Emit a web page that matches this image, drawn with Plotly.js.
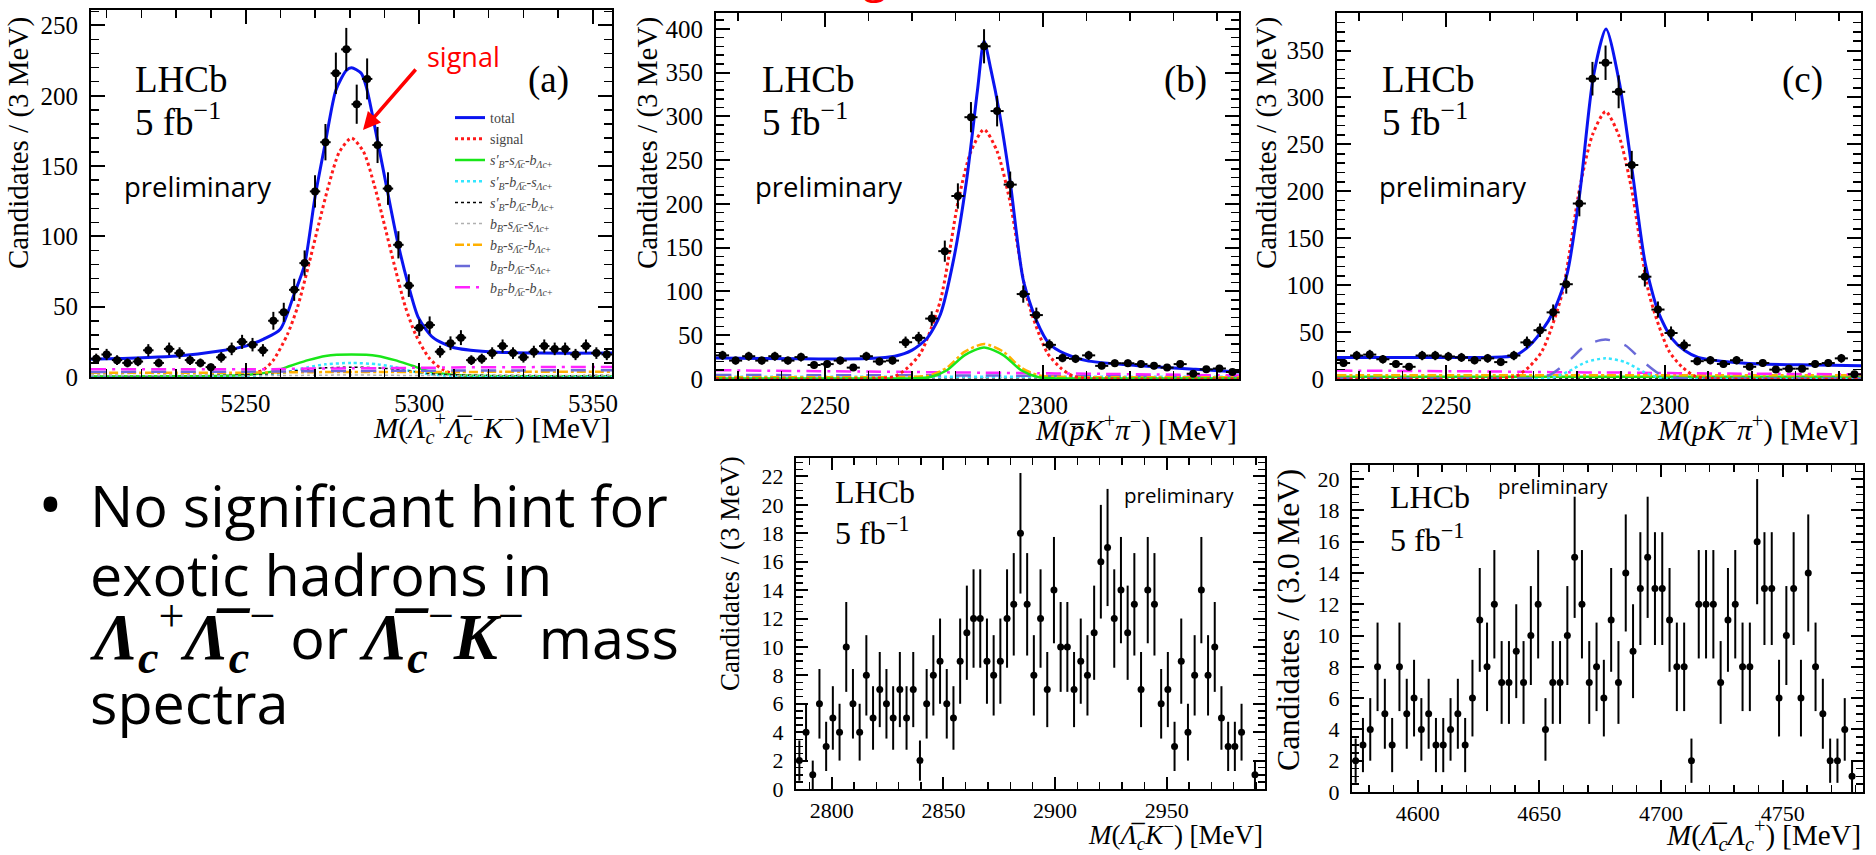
<!DOCTYPE html>
<html><head><meta charset="utf-8">
<script src="https://cdn.plot.ly/plotly-3.0.1.min.js"></script>
<style>html,body{margin:0;padding:0;background:#fff}#chart{width:1876px;height:855px}</style>
</head><body><div id="chart"></div>
<script>
// ---------------- DATA ----------------
// (a) M(Lc+ Lcbar- K-) spectrum, 3 MeV bins
const xA = [5207,5210,5213,5216,5219,5222,5225,5228,5231,5234,5237,5240,5243,5246,5249,5252,5255,5258,5261,5264,5267,5270,5273,5276,5279,5282,5285,5288,5291,5294,5297,5300,5303,5306,5309,5312,5315,5318,5321,5324,5327,5330,5333,5336,5339,5342,5345,5348,5351,5354];
const yA = [13,16,12,10,11,19,10,20,17,12,10,7,14,20,25,23,19,40,46,62,81,132,167,216,233,194,212,165,134,94,65,35,37,18,24,28,12,13,17,22,17,14,18,22,20,20,16,22,17,16];
const xA_tot = [5205.5,5230.5,5242.5,5250,5255.2,5260,5264,5267,5270,5273,5276,5279,5280.5,5283.3,5284.8,5288,5290.7,5293.7,5296.8,5299.8,5304,5309.8,5320,5335,5355.5];
const yA_tot = [12.6,15,18.5,22,27,34,59,80,128,167,204,218,220,216,206,168,134,97,66,42,28,21,18,17,17];
const xA_sig = [5205.5,5240,5250,5255,5258,5262,5265,5268,5271,5274,5277,5280.5,5284,5287,5290,5293,5296,5299,5303,5307,5312,5355.5];
const yA_sig = [0,0,1,5,12,30,50,78,108,137,160,170,160,137,108,78,50,30,13,5,1,0];
const xA_cmp = [5205.5,5230,5250,5258,5263,5268,5273,5280.5,5288,5293,5298,5303,5310,5330,5355.5];
const yA_green   = [0.3,0.5,1.5,4,8,12,15,16,15,12,8,4,1.5,0.5,0.3];
const yA_cyan    = [0,0,0.5,2,4,7,9,10,9,7,4,2,0.5,0,0];
const yA_black   = [1,1,1.5,2.5,4,5.5,6.5,7,6.5,5.5,4,2.5,1.5,1,1];
const yA_gray    = [1,1,1,1,1,1.2,1.3,1.4,1.3,1.2,1,1,1,1,1];
const yA_orange  = [3,3,3.1,3.2,3.3,3.4,3.5,3.6,3.6,3.6,3.6,3.6,3.6,3.7,3.8];
const yA_violet  = [3.6,3.7,3.8,3.9,4,4.1,4.2,4.3,4.4,4.4,4.5,4.5,4.6,4.7,4.8];
const yA_magenta = [5.5,5.5,5.5,5.6,5.8,6,6,6.2,6.3,6.4,6.5,6.6,6.8,7,7.2];

// (b) M(pbar K+ pi-) and (c) M(p K- pi+), 3 MeV bins
const xLc = [2226.5,2229.5,2232.5,2235.5,2238.5,2241.5,2244.5,2247.5,2250.5,2253.5,2256.5,2259.5,2262.5,2265.5,2268.5,2271.5,2274.5,2277.5,2280.5,2283.5,2286.5,2289.5,2292.5,2295.5,2298.5,2301.5,2304.5,2307.5,2310.5,2313.5,2316.5,2319.5,2322.5,2325.5,2328.5,2331.5,2334.5,2337.5,2340.5,2343.5];
const yB = [27,21,26,21,26,21,25,16,17,21,13,26,20,21,42,47,69,146,209,299,380,306,222,97,73,39,24,23,27,15,18,18,17,15,13,17,6,11,12,8];
const yC = [17,25,26,21,16,13,25,25,24,23,20,22,18,25,39,52,71,101,187,320,337,306,228,109,74,49,36,19,20,16,20,13,17,10,11,11,16,17,22,5];
const xB_tot = [2225,2245,2260,2266,2270,2273.5,2276.5,2279.5,2282.5,2285,2286.5,2288,2290,2292.5,2295.5,2298.5,2301.5,2305,2310,2320,2335,2345];
const yB_tot = [24,23,23.5,26,33,47,74,136,227,330,386,355,305,225,113,67,40,29,21,16,11,8];
const xC_tot = [2225,2245,2260,2265.7,2268.7,2271.7,2274.7,2277.7,2280.6,2283.7,2286.6,2289.7,2292.6,2295.6,2298.6,2301.7,2304.7,2307.7,2313,2322,2335,2345];
const yC_tot = [23,23,23,25,34,50,73,112,198,322,373,315,222,123,71,43,30,23,19,16,15,14];
const xLc_sig = [2225,2262,2266,2269,2272,2276.5,2280.6,2283.5,2286.5,2289.5,2292.4,2296.5,2301,2304,2307,2311,2345];
const yB_sig = [0,0.5,3,13,30,90,204,260,285,260,204,90,30,13,3,0.5,0];
const yC_sig = [0,0.5,3,13,30,90,204,260,285,260,204,90,30,13,3,0.5,0];
const xLc_cmp = [2225,2260,2270,2274,2278,2282,2286.5,2291,2295,2299,2303,2315,2345];
const yB_green   = [0.5,0.5,0.7,2,10,27,36,27,10,2,0.7,0.5,0.5];
const yB_orange  = [2,2,2.5,4,13,31,40,31,13,4,2.5,2,2];
const yB_cyan    = [2.5,2.5,2.5,2.5,2.5,2.5,2.5,2.5,2.5,2.5,2.5,2.5,2.5];
const yB_black   = [1.5,1.5,1.5,1.5,1.5,1.5,1.5,1.5,1.5,1.5,1.5,1.5,1.5];
const yB_violet  = [4.5,4.3,4.2,4.2,4.1,4,4,3.9,3.8,3.7,3.6,3.4,3];
const yB_magenta = [10,8.5,8,7.8,7.6,7.4,7.2,7,6.8,6.6,6.4,5.8,4];
const yC_violet  = [0.5,0.5,1,5,19,36,42,36,19,5,1,0.5,0.5];
const yC_cyan    = [0,0,0,1,8,18,22,18,8,1,0,0,0];
const yC_magenta = [9,8,7.5,7.3,7.2,7,7,6.8,6.6,6.4,6.2,5.8,5];
const yC_orange  = [4,4,4,4,4,4,4,4,4,4,4,4,4];
const yC_green   = [2.5,2.5,2.5,2.5,2.5,2.5,2.5,2.5,2.5,2.5,2.5,2.5,2.5];
const yC_black   = [1,1,1,1,1,1,1,1,1,1,1,1,1];

// (d) M(Lcbar K-) spectrum
const xD = [2785.5,2788.5,2791.5,2794.5,2797.5,2800.5,2803.5,2806.5,2809.5,2812.5,2815.5,2818.5,2821.5,2824.5,2827.5,2830.5,2833.5,2836.5,2839.5,2842.5,2845.5,2848.5,2851.5,2854.5,2857.5,2860.5,2863.5,2866.5,2869.5,2872.5,2875.5,2878.5,2881.5,2884.5,2887.5,2890.5,2893.5,2896.5,2899.5,2902.5,2905.5,2908.5,2911.5,2914.5,2917.5,2920.5,2923.5,2926.5,2929.5,2932.5,2935.5,2938.5,2941.5,2944.5,2947.5,2950.5,2953.5,2956.5,2959.5,2962.5,2965.5,2968.5,2971.5,2974.5,2977.5,2980.5,2983.5,2986.5,2989.5];
const yD = [2,4,1,6,3,5,4,10,6,4,8,5,7,6,5,7,5,7,2,6,8,9,6,5,9,11,12,12,9,8,9,12,13,18,13,8,12,7,14,10,10,7,9,8,11,16,17,12,14,11,13,7,14,13,6,7,3,9,4,8,14,8,10,5,3,3,4,null,1];

// (e) M(Lcbar Lc+) spectrum
const xE = [4574.5,4577.5,4580.5,4583.5,4586.5,4589.5,4592.5,4595.5,4598.5,4601.5,4604.5,4607.5,4610.5,4613.5,4616.5,4619.5,4622.5,4625.5,4628.5,4631.5,4634.5,4637.5,4640.5,4643.5,4646.5,4649.5,4652.5,4655.5,4658.5,4661.5,4664.5,4667.5,4670.5,4673.5,4676.5,4679.5,4682.5,4685.5,4688.5,4691.5,4694.5,4697.5,4700.5,4703.5,4706.5,4709.5,4712.5,4715.5,4718.5,4721.5,4724.5,4727.5,4730.5,4733.5,4736.5,4739.5,4742.5,4745.5,4748.5,4751.5,4754.5,4757.5,4760.5,4763.5,4766.5,4769.5,4772.5,4775.5,4778.5];
const yE = [2,3,4,8,5,3,8,5,6,4,5,3,3,4,5,3,6,11,8,12,7,7,9,7,10,12,4,7,7,10,15,12,7,8,6,11,7,14,9,13,15,13,13,11,8,8,2,12,12,12,7,11,12,8,8,16,13,13,6,10,13,6,14,8,5,2,2,4,1];

// legend labels (panel a)
const legendNames = [
  'total','signal',
  "<i>s′</i><sub><i>B</i></sub>-<i>s</i><sub><i>Λ̅</i><i>c</i></sub>-<i>b</i><sub><i>Λ</i><i>c</i>+</sub>",
  "<i>s′</i><sub><i>B</i></sub>-<i>b</i><sub><i>Λ̅</i><i>c</i></sub>-<i>s</i><sub><i>Λ</i><i>c</i>+</sub>",
  "<i>s′</i><sub><i>B</i></sub>-<i>b</i><sub><i>Λ̅</i><i>c</i></sub>-<i>b</i><sub><i>Λ</i><i>c</i>+</sub>",
  "<i>b</i><sub><i>B</i></sub>-<i>s</i><sub><i>Λ̅</i><i>c</i></sub>-<i>s</i><sub><i>Λ</i><i>c</i>+</sub>",
  "<i>b</i><sub><i>B</i></sub>-<i>s</i><sub><i>Λ̅</i><i>c</i></sub>-<i>b</i><sub><i>Λ</i><i>c</i>+</sub>",
  "<i>b</i><sub><i>B</i></sub>-<i>b</i><sub><i>Λ̅</i><i>c</i></sub>-<i>s</i><sub><i>Λ</i><i>c</i>+</sub>",
  "<i>b</i><sub><i>B</i></sub>-<i>b</i><sub><i>Λ̅</i><i>c</i></sub>-<i>b</i><sub><i>Λ</i><i>c</i>+</sub>"
];

// ---------------- STYLE / LAYOUT ----------------
const W = 1876, H = 855;
const px = v => v / W, py = v => 1 - v / H;
const SERIF = 'Liberation Serif, Times New Roman, serif';
const SANS = 'Open Sans, Lato, sans-serif';

const ST = {
  total:   {color:'#0a14f0', width:3, dash:'solid'},
  signal:  {color:'#ff1a1a', width:3, dash:'dot'},
  green:   {color:'#19e619', width:2.5, dash:'solid'},
  cyan:    {color:'#33e6ff', width:2.5, dash:'dot'},
  black:   {color:'#000000', width:1.5, dash:'dot'},
  gray:    {color:'#b0b0b0', width:1.5, dash:'dot'},
  orange:  {color:'#ffb000', width:2.5, dash:'dashdot'},
  violet:  {color:'#6a6ad8', width:2.5, dash:'longdash'},
  magenta: {color:'#ff22ff', width:2.5, dash:'longdashdot'}
};

function curve(x, y, n, style, name, legend) {
  return {type:'scatter', mode:'lines', x:x, y:y, xaxis:'x'+(n===1?'':n), yaxis:'y'+(n===1?'':n),
    line:{color:style.color, width:style.width, dash:style.dash, shape:'spline', smoothing:0.7},
    name:name||'', showlegend:!!legend, hoverinfo:'skip'};
}
function points(x, y, n, size, xerr) {
  const t = {type:'scatter', mode:'markers', x:x, y:y, xaxis:'x'+(n===1?'':n), yaxis:'y'+(n===1?'':n),
    marker:{color:'black', size:size},
    error_y:{type:'sqrt', visible:true, color:'black', thickness:2, width:0},
    showlegend:false, hoverinfo:'skip'};
  if (xerr) t.error_x = {type:'constant', value:xerr, visible:true, color:'black', thickness:2, width:0};
  return t;
}

const traces = [
  // panel a (legend order)
  curve(xA_tot, yA_tot, 1, ST.total, legendNames[0], true),
  curve(xA_sig, yA_sig, 1, ST.signal, legendNames[1], true),
  curve(xA_cmp, yA_green, 1, ST.green, legendNames[2], true),
  curve(xA_cmp, yA_cyan, 1, ST.cyan, legendNames[3], true),
  curve(xA_cmp, yA_black, 1, ST.black, legendNames[4], true),
  curve(xA_cmp, yA_gray, 1, ST.gray, legendNames[5], true),
  curve(xA_cmp, yA_orange, 1, ST.orange, legendNames[6], true),
  curve(xA_cmp, yA_violet, 1, ST.violet, legendNames[7], true),
  curve(xA_cmp, yA_magenta, 1, ST.magenta, legendNames[8], true),
  points(xA, yA, 1, 8, 1.5),
  // panel b
  curve(xLc_cmp, yB_black, 2, ST.black),
  curve(xLc_cmp, yB_cyan, 2, ST.cyan),
  curve(xLc_cmp, yB_violet, 2, ST.violet),
  curve(xLc_cmp, yB_magenta, 2, ST.magenta),
  curve(xLc_cmp, yB_orange, 2, ST.orange),
  curve(xLc_cmp, yB_green, 2, ST.green),
  curve(xLc_sig, yB_sig, 2, ST.signal),
  curve(xB_tot, yB_tot, 2, ST.total),
  points(xLc, yB, 2, 8, 1.5),
  // panel c
  curve(xLc_cmp, yC_black, 3, ST.black),
  curve(xLc_cmp, yC_green, 3, ST.green),
  curve(xLc_cmp, yC_orange, 3, ST.orange),
  curve(xLc_cmp, yC_magenta, 3, ST.magenta),
  curve(xLc_cmp, yC_cyan, 3, ST.cyan),
  curve(xLc_cmp, yC_violet, 3, ST.violet),
  curve(xLc_sig, yC_sig, 3, ST.signal),
  curve(xC_tot, yC_tot, 3, ST.total),
  points(xLc, yC, 3, 8, 1.5),
  // panel d, e
  points(xD, yD, 4, 7, 0),
  points(xE, yE, 5, 7, 0)
];

function axis(x0, x1, range, dtick, minor, anchor, fs, tl, isY, standoff) {
  return {
    domain: isY ? [py(x1), py(x0)] : [px(x0), px(x1)],
    range: range, anchor: anchor, autorange:false,
    showline:true, mirror:'allticks', linecolor:'black', linewidth:2,
    ticks:'inside', ticklen:tl, tickwidth:2, tickcolor:'black',
    tick0:0, dtick:dtick,
    minor:{ticks:'inside', ticklen:Math.round(tl*0.55), tickwidth:1.5, tickcolor:'black', dtick:minor, showgrid:false},
    showgrid:false, zeroline:false, ticklabelstandoff: standoff,
    tickfont:{family:SERIF, size:fs, color:'black'}, fixedrange:true
  };
}

function T(text, x, y, size, o) {
  o = o || {};
  return {text:text, x:px(x), y:py(y), xref:'paper', yref:'paper', showarrow:false,
    xanchor:o.xa||'left', yanchor:o.ya||'middle', textangle:o.angle||0,
    font:{family:o.family||SERIF, size:size, color:o.color||'black'}};
}

const mathS = s => '<span style="font-family:Liberation Serif;font-size:66px">'+s+'</span>';
const annotations = [
  // y titles
  T('Candidates / (3 MeV)', 18, 143, 29, {xa:'center', angle:-90}),
  T('Candidates / (3 MeV)', 647, 143, 29, {xa:'center', angle:-90}),
  T('Candidates / (3 MeV)', 1266, 143, 29, {xa:'center', angle:-90}),
  T('Candidates / (3 MeV)', 730, 574, 27, {xa:'center', angle:-90}),
  T('Candidates / (3.0 MeV)', 1288, 620, 32, {xa:'center', angle:-90}),
  // x titles
  T('<i>M</i>(<i>Λ</i><sub><i>c</i></sub><sup>+</sup><i>Λ̅</i><sub><i>c</i></sub><sup>−</sup><i>K</i><sup>−</sup>) [MeV]', 612, 428, 29, {xa:'right'}),
  T('<i>M</i>(<i>p̅K</i><sup>+</sup><i>π</i><sup>−</sup>) [MeV]', 1239, 428, 29, {xa:'right'}),
  T('<i>M</i>(<i>pK</i><sup>−</sup><i>π</i><sup>+</sup>) [MeV]', 1861, 428, 29, {xa:'right'}),
  T('<i>M</i>(<i>Λ̅</i><sub><i>c</i></sub><i>K</i><sup>−</sup>) [MeV]', 1265, 835, 27, {xa:'right'}),
  T('<i>M</i>(<i>Λ̅</i><sub><i>c</i></sub><i>Λ</i><sub><i>c</i></sub><sup>+</sup>) [MeV]', 1863, 835, 29, {xa:'right'}),
  // LHCb labels
  T('LHCb', 133, 79, 37), T('5 fb<sup>−1</sup>', 133, 119, 37),
  T('LHCb', 760, 79, 37), T('5 fb<sup>−1</sup>', 760, 119, 37),
  T('LHCb', 1380, 79, 37), T('5 fb<sup>−1</sup>', 1380, 119, 37),
  T('LHCb', 833, 492, 32), T('5 fb<sup>−1</sup>', 833, 531, 32),
  T('LHCb', 1388, 497, 32), T('5 fb<sup>−1</sup>', 1388, 538, 32),
  T('(a)', 548, 80, 37, {xa:'center'}), T('(b)', 1185, 80, 37, {xa:'center'}), T('(c)', 1802, 80, 37, {xa:'center'}),
  // preliminary
  T('preliminary', 122, 186, 27.5, {family:SANS}),
  T('preliminary', 753, 186, 27.5, {family:SANS}),
  T('preliminary', 1377, 186, 27.5, {family:SANS}),
  T('preliminary', 1122, 495, 20.5, {family:SANS}),
  T('preliminary', 1496, 486, 20.5, {family:SANS}),
  // signal pointer
  T('signal', 463, 56, 27, {family:SANS, color:'#ff0000', xa:'center'}),
  {x:px(363), y:py(130), xref:'paper', yref:'paper', text:'', showarrow:true, ax:54, ay:-62,
   arrowhead:2, arrowsize:1, arrowwidth:3.5, arrowcolor:'#ff0000', standoff:0, startstandoff:0},
  // cut-off slide title letter
  T('g', 875, 7, 44, {family:SANS, color:'#ff0000', xa:'center', ya:'bottom'}),
  // bullet text
  T('•', 50, 502, 66, {family:SANS, xa:'center'}),
  T('No significant hint for', 88, 505, 57.5, {family:SANS}),
  T('exotic hadrons in', 88, 574, 57.5, {family:SANS}),
  T(mathS('<b><i>Λ</i></b><sub><b><i>c</i></b></sub><sup>+</sup><b><i>Λ̅</i></b><sub><b><i>c</i></b></sub><sup>−</sup>') + ' or ' +
    mathS('<b><i>Λ̅</i></b><sub><b><i>c</i></b></sub><sup>−</sup><b><i>K</i></b><sup>−</sup>') + ' mass', 88, 636, 57.5, {family:SANS}),
  T('spectra', 88, 702, 57.5, {family:SANS})
];

const layout = {
  width:W, height:H, margin:{l:0, r:0, t:0, b:0},
  paper_bgcolor:'white', plot_bgcolor:'white', hovermode:false,
  showlegend:true,
  legend:{x:px(450), y:py(102), xanchor:'left', yanchor:'top', bgcolor:'rgba(0,0,0,0)', borderwidth:0,
    font:{family:SERIF, size:14, color:'#444'}, itemwidth:30, tracegroupgap:0, traceorder:'normal'},
  xaxis:  axis(91, 612, [5205.5, 5355.5], 50, 10, 'y', 25, 14, false, 3),
  yaxis:  axis(10, 377, [0, 261], 50, 10, 'x', 25, 14, true, 6),
  xaxis2: axis(716, 1239, [2225, 2345], 50, 10, 'y2', 25, 14, false, 3),
  yaxis2: axis(13, 379, [0, 418], 50, 10, 'x2', 25, 14, true, 6),
  xaxis3: axis(1337, 1861, [2225, 2345], 50, 10, 'y3', 25, 14, false, 3),
  yaxis3: axis(13, 379, [0, 390], 50, 10, 'x3', 25, 14, true, 6),
  xaxis4: axis(796, 1265, [2784, 2994], 50, 10, 'y4', 22, 12, false, 1),
  yaxis4: axis(458, 789, [0, 23.3], 2, 0.5, 'x4', 22, 12, true, 6),
  xaxis5: axis(1352, 1863, [4573, 4783], 50, 10, 'y5', 22, 12, false, 1),
  yaxis5: axis(465, 792, [0, 20.9], 2, 0.5, 'x5', 22, 12, true, 6),
  annotations: annotations
};

Plotly.newPlot('chart', traces, layout, {displayModeBar:false, staticPlot:true});
</script></body></html>
